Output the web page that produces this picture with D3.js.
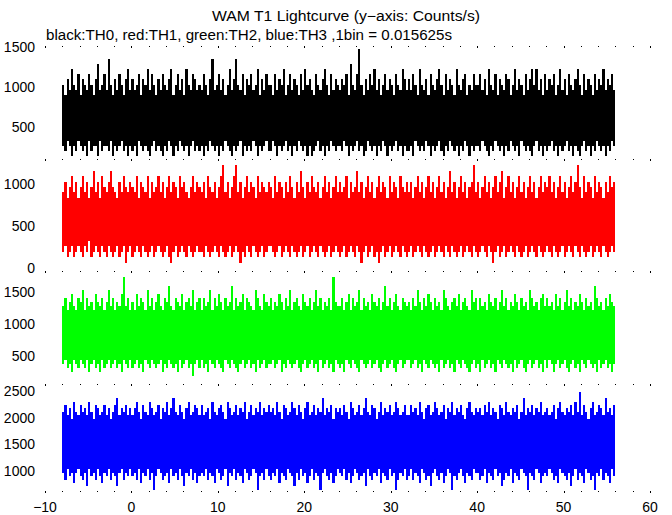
<!DOCTYPE html>
<html><head><meta charset="utf-8">
<script src="https://cdn.jsdelivr.net/npm/d3@7/dist/d3.min.js"></script>
<style>body{margin:0;background:#fff}svg{display:block}text{font-family:"Liberation Sans",Arial,sans-serif;fill:#000}</style>
</head><body>
<svg id="c" width="672" height="515"></svg>
<script>
// Titles
const titleText = "WAM T1 Lightcurve (y\u2212axis: Counts/s)";
const subtitleText = "black:TH0, red:TH1, green:TH2, blue:TH3 ,1bin = 0.015625s";
// Time axis
const tStart = -8, step = 0.25, countScale = 64; // counts per 1/64 s bin -> counts/s
const xTicks = [-10, 0, 10, 20, 30, 40, 50, 60];
// per-panel y tick labels
const ticksTH0 = [500, 1000, 1500];
const ticksTH1 = [0, 500, 1000];
const ticksTH2 = [500, 1000, 1500];
const ticksTH3 = [1000, 1500, 2000, 2500];
// max / min counts per 1bin within each 0.25 s chunk
const th0Hi = [16,14,17,15,19,16,15,18,14,17,16,15,18,16,14,17,20,15,16,18,15,21,16,14,17,15,18,16,14,17,19,15,
17,15,16,18,14,17,16,19,15,18,16,14,17,15,18,16,15,17,19,14,16,18,15,17,14,19,16,15,18,17,15,16,
15,18,16,14,17,21,15,16,18,15,17,14,16,19,15,17,21,16,15,18,14,17,16,18,15,16,19,14,17,15,18,16,
16,14,18,15,17,16,19,14,16,18,15,17,16,14,18,15,19,16,17,15,14,18,16,15,17,19,16,14,18,15,17,16,
15,17,16,18,14,20,16,15,18,23,16,14,17,15,18,16,19,15,17,14,16,18,15,17,16,14,18,16,15,19,17,15,
17,15,18,16,14,19,16,15,17,14,18,16,15,17,19,16,14,18,15,17,16,14,19,16,15,17,18,14,16,15,18,16,
16,18,15,17,14,19,16,15,18,14,17,16,15,18,17,14,16,19,15,17,16,14,18,15,17,19,16,19,15,17,14,18,
15,17,16,18,14,16,19,15,17,14,18,16,15,17,19,16,14,18,15,17,16,14,18,15,17,16,19,15,17,16,18,15];
const th0Lo = [4,3,5,4,2,4,3,5,4,3,4,2,5,3,4,4,2,5,3,4,4,3,5,2,4,3,4,5,3,4,2,4,
3,4,2,5,4,3,4,3,2,4,5,3,4,3,2,4,3,5,4,2,4,3,5,4,3,4,2,4,5,3,4,3,
4,2,4,3,5,4,3,4,2,4,3,5,4,3,2,4,3,4,5,2,4,3,4,3,5,4,2,4,3,4,5,3,
3,5,4,2,4,3,4,5,3,4,2,4,3,5,4,3,4,2,4,2,3,4,5,3,4,2,4,3,5,4,3,4,
4,3,5,4,2,4,3,4,5,3,4,2,3,5,4,3,4,2,4,3,5,4,2,4,3,4,5,3,4,2,4,3,
3,4,2,5,4,3,4,3,5,4,2,4,3,4,5,3,2,4,3,5,4,3,4,2,4,3,5,4,2,4,3,4,
4,3,5,4,3,2,4,3,5,4,3,4,2,4,3,5,4,3,4,2,5,4,3,4,3,2,4,5,3,4,2,4,
3,4,5,3,4,2,4,3,4,5,3,4,2,4,3,2,4,5,3,4,2,4,3,5,4,3,4,2,4,3,5,4];
const th1Hi = [14,16,13,15,17,14,16,13,15,17,14,16,13,15,18,14,16,13,17,15,14,16,18,15,14,13,16,14,17,15,14,16,
15,14,17,13,16,15,14,17,13,16,14,15,17,14,16,13,15,17,14,16,15,13,17,15,16,14,13,15,17,14,16,15,
14,16,13,17,15,14,16,13,15,17,19,14,16,13,15,17,19,14,16,13,15,17,14,16,15,13,17,14,16,15,14,16,
15,13,17,14,16,15,13,16,14,17,15,13,16,14,18,15,13,16,14,17,15,14,16,13,15,17,14,16,13,15,17,14,
16,14,15,17,13,16,14,15,18,14,16,13,15,17,14,16,13,15,17,14,16,15,13,17,14,16,15,13,17,15,14,16,
14,16,13,15,17,14,16,13,15,17,14,16,13,15,17,14,16,13,15,18,14,16,13,15,17,14,16,13,15,16,19,14,
16,13,15,17,14,16,13,15,17,14,16,18,13,15,17,14,16,13,15,17,14,16,13,15,17,14,16,13,15,17,14,16,
15,17,14,16,13,15,17,14,16,13,15,17,14,16,19,15,13,17,14,16,15,13,17,14,16,15,13,16,14,17,15,16];
const th1Lo = [3,4,2,3,4,2,3,4,3,2,4,3,5,2,3,4,3,2,4,3,2,4,3,2,3,4,2,3,4,1,3,4,
2,3,4,3,2,4,3,2,3,4,2,3,4,3,2,3,4,2,1,3,4,2,3,4,3,2,4,3,2,3,4,3,
3,2,4,3,2,3,4,3,2,4,3,2,3,4,2,3,4,3,1,3,2,4,3,2,4,3,2,3,4,2,3,4,
4,3,2,3,4,2,3,4,3,2,4,3,2,3,4,2,3,4,2,3,4,3,2,4,3,2,3,4,2,3,4,3,
2,3,4,2,3,4,3,2,4,3,1,3,4,2,3,4,2,3,1,3,4,2,3,4,2,3,4,3,2,4,3,2,
3,4,2,3,4,3,2,4,3,2,3,4,2,3,4,3,2,4,3,2,4,3,2,3,4,2,3,4,3,2,4,3,
2,3,4,3,2,4,3,1,3,4,2,3,4,2,3,4,3,2,4,3,2,3,4,2,3,4,3,2,4,3,2,3,
4,3,2,4,3,2,3,4,2,3,4,3,2,4,3,2,4,3,2,3,4,2,3,4,3,2,4,3,2,3,4,3];
const th2Hi = [20,22,19,21,23,20,19,22,21,24,19,22,20,21,19,23,21,20,22,19,21,24,20,22,19,21,20,23,27,20,22,19,
21,19,23,20,22,21,19,24,20,22,19,21,23,20,19,22,21,25,20,19,22,21,20,23,19,21,22,20,24,19,21,22,
19,22,20,21,24,19,22,20,23,21,19,22,20,21,25,19,22,20,21,23,19,22,21,20,19,24,22,20,19,23,21,20,
22,19,21,20,23,21,19,22,20,24,19,21,22,20,19,23,21,20,22,19,21,24,20,22,19,21,20,22,19,27,21,20,
20,22,19,21,23,19,22,20,21,24,19,22,20,21,19,23,21,20,22,19,21,25,20,22,19,21,23,20,19,22,21,20,
21,19,22,20,24,21,19,22,20,23,21,19,22,20,21,19,24,22,20,19,21,22,20,23,19,21,22,20,19,24,21,22,
19,22,20,21,19,23,21,20,22,19,21,24,20,22,19,21,20,23,21,19,22,20,21,19,24,22,20,21,19,22,23,20,
22,20,21,19,23,20,22,19,21,24,20,22,19,21,20,23,21,19,22,20,21,19,25,22,20,21,19,22,20,23,21,20];
const th2Lo = [6,7,5,6,4,7,6,5,7,6,5,7,4,6,7,5,6,4,7,5,6,7,5,6,7,5,6,4,7,6,5,7,
5,6,7,5,6,4,7,6,5,7,6,5,6,7,4,6,5,7,6,5,6,4,7,5,6,7,5,6,3,6,7,5,
7,5,6,4,7,6,5,7,6,5,4,7,6,5,7,6,5,4,6,7,5,6,7,5,6,4,7,5,6,7,5,6,
6,7,5,6,7,4,6,5,7,6,5,6,7,5,4,6,7,5,6,7,5,6,4,7,5,6,7,5,6,4,7,6,
5,6,4,7,6,5,7,6,5,4,7,6,5,6,7,5,6,7,5,4,6,7,5,6,7,5,4,6,7,5,6,7,
7,5,6,7,5,6,4,7,6,5,7,6,5,6,4,7,5,6,7,5,6,4,7,6,5,7,6,5,4,6,7,5,
6,4,7,5,6,7,5,6,4,7,6,5,7,6,5,6,4,7,5,6,7,5,4,6,7,5,6,7,5,6,4,7,
5,7,6,4,6,7,5,6,7,5,4,6,7,5,6,4,7,6,5,7,6,5,6,4,7,5,6,7,5,6,4,6];
const th3Hi = [33,35,32,34,31,36,33,32,35,33,34,32,36,33,31,35,34,32,33,35,32,34,31,33,35,37,32,34,33,35,32,34,
32,34,36,33,31,35,33,32,36,34,32,33,35,31,34,33,36,32,34,37,33,32,35,33,31,34,36,32,33,35,34,32,
35,32,33,34,31,36,33,32,34,35,33,31,36,34,32,33,35,32,34,33,36,31,33,35,32,34,33,36,32,34,33,35,
33,34,32,36,33,31,35,34,32,33,36,34,32,35,33,31,34,36,32,33,35,32,34,33,37,32,34,33,35,31,34,33,
34,32,35,33,31,36,34,32,33,35,32,34,37,33,32,35,34,31,33,36,32,34,33,35,32,33,36,34,32,33,35,32,
32,35,33,34,32,36,33,31,34,35,32,33,36,34,32,33,35,31,34,33,36,32,34,33,35,32,31,34,36,33,32,34,
33,34,32,35,33,36,32,34,33,31,35,34,32,36,33,32,34,33,35,31,33,37,32,34,33,35,32,34,33,36,32,33,
34,32,33,35,31,34,36,33,32,34,33,35,32,36,33,39,32,35,33,31,34,36,32,33,35,34,32,37,33,34,32,35];
const th3Lo = [15,13,16,14,15,12,15,16,14,13,15,11,16,14,15,13,16,14,12,15,14,16,13,15,14,11,15,16,13,15,14,16,
14,15,13,16,12,15,14,16,13,15,10,14,16,15,13,14,15,12,16,14,15,13,16,14,11,15,14,16,13,15,12,14,
15,14,16,13,15,14,12,16,15,13,14,16,11,15,14,16,13,15,14,12,16,15,13,14,16,15,10,14,15,13,16,14,
13,15,14,16,12,15,14,13,16,15,14,11,15,13,16,14,15,12,14,16,13,15,14,10,15,16,14,13,15,12,14,16,
15,14,16,13,15,12,14,16,15,13,14,15,11,16,14,13,15,14,16,12,15,14,13,16,14,15,10,13,15,14,16,13,
14,16,13,15,14,12,16,15,13,14,11,15,16,14,13,15,12,14,16,15,10,14,13,15,16,14,12,15,14,13,16,15,
15,13,14,16,12,15,14,13,16,14,15,11,13,15,14,16,12,15,14,13,16,15,14,10,15,14,13,16,15,12,14,15,
14,16,15,13,14,12,16,15,14,13,15,11,14,16,13,15,14,12,16,15,13,14,10,15,14,16,13,15,14,12,16,14];

const svg = d3.select("#c");
const x = d3.scaleLinear().domain([-10, 60]).range([45, 650]);

const panels = [
  {hi: th0Hi, lo: th0Lo, color: "#000000", ticks: ticksTH0, top: 47,    bottom: 159.5, yd: [500, 1000], yr: [126.5, 86.5]},
  {hi: th1Hi, lo: th1Lo, color: "#ff0000", ticks: ticksTH1, top: 159.5, bottom: 271.5, yd: [0, 1000],   yr: [268, 183.7]},
  {hi: th2Hi, lo: th2Lo, color: "#00ff00", ticks: ticksTH2, top: 271.5, bottom: 384.5, yd: [500, 1500], yr: [356.3, 292]},
  {hi: th3Hi, lo: th3Lo, color: "#0000ff", ticks: ticksTH3, top: 384.5, bottom: 492,   yd: [1000, 2500],yr: [470.7, 391.3]}
];

// Titles
svg.append("text").attr("x", 346).attr("y", 21).attr("text-anchor", "middle")
  .attr("textLength", 268).attr("lengthAdjust", "spacingAndGlyphs")
  .style("font-size", "14px").text(titleText);
svg.append("text").attr("x", 46).attr("y", 40)
  .attr("textLength", 406).attr("lengthAdjust", "spacingAndGlyphs")
  .style("font-size", "14px").text(subtitleText);

panels.forEach((p, k) => {
  const y = d3.scaleLinear().domain(p.yd).range(p.yr);
  const id = "clip" + k;
  svg.append("clipPath").attr("id", id).append("rect")
    .attr("x", x(-10)).attr("y", p.top).attr("width", x(60) - x(-10)).attr("height", p.bottom - p.top);
  const rows = p.hi.map((h, i) => ({t: tStart + i * step, hi: h * countScale, lo: p.lo[i] * countScale}));
  rows.push({t: tStart + p.hi.length * step, hi: rows[rows.length - 1].hi, lo: rows[rows.length - 1].lo});
  const area = d3.area().x(d => Math.round(x(d.t))).y0(d => y(d.lo)).y1(d => y(d.hi)).curve(d3.curveStepAfter);
  svg.append("path").attr("clip-path", `url(#${id})`).attr("d", area(rows))
    .attr("fill", p.color).attr("stroke", "none")
    .attr("shape-rendering", "crispEdges");
  // y tick labels
  svg.selectAll(null).data(p.ticks).enter().append("text")
    .attr("x", 35).attr("y", d => y(d) + 5).attr("text-anchor", "end")
    .style("font-size", "14px").text(d => d);
});

// tick dots along panel boundaries
const bounds = [47, 159.5, 271.5, 384.5, 492];
const minor = d3.range(-10, 61, 2);
bounds.forEach(b => {
  svg.selectAll(null).data(minor).enter().append("rect")
    .attr("x", d => Math.round(x(d))).attr("y", Math.round(b) - 1)
    .attr("width", 1).attr("height", d => d % 10 === 0 ? 2 : 1).attr("fill", "#000");
});

// x tick labels
svg.selectAll(null).data(xTicks).enter().append("text")
  .attr("x", d => x(d)).attr("y", 512).attr("text-anchor", "middle")
  .style("font-size", "14px").text(d => d < 0 ? "\u2212" + Math.abs(d) : d);
</script>
</body></html>
